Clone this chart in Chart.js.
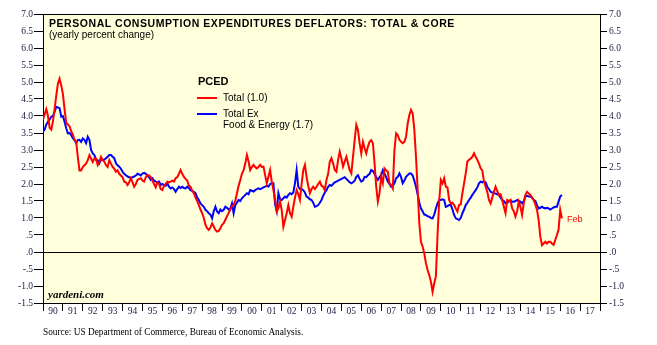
<!DOCTYPE html>
<html>
<head>
<meta charset="utf-8">
<script src="https://cdn.jsdelivr.net/npm/chart.js@4.4.1/dist/chart.umd.min.js"></script>
<style>
  body { margin: 0; background: #fff; }
  #wrap { position: relative; width: 657px; height: 345px; }
  .t { position: absolute; white-space: nowrap; line-height: 1; color: #000; }
  .sans { font-family: "Liberation Sans", Arial, sans-serif; }
  .serif { font-family: "Liberation Serif", "Times New Roman", serif; }
  .key { position: absolute; height: 2px; width: 20px; }
</style>
</head>
<body>
<div id="wrap">
  <canvas id="chart" width="657" height="345"></canvas>
  <div class="t sans" style="left:49px; top:17.5px; font-size:10.5px; font-weight:bold; letter-spacing:0.55px;">PERSONAL CONSUMPTION EXPENDITURES DEFLATORS: TOTAL &amp; CORE</div>
  <div class="t sans" style="left:49px; top:30px; font-size:10px;">(yearly percent change)</div>
  <div class="t sans" style="left:198px; top:76.3px; font-size:11px; font-weight:bold;">PCED</div>
  <div class="key" style="left:197px; top:96.7px; background:#ff0000;"></div>
  <div class="t sans" style="left:223px; top:93.2px; font-size:10px;">Total (1.0)</div>
  <div class="key" style="left:197px; top:112.7px; background:#0000ff;"></div>
  <div class="t sans" style="left:223px; top:109px; font-size:10px;">Total Ex</div>
  <div class="t sans" style="left:223px; top:120px; font-size:10px;">Food &amp; Energy (1.7)</div>
  <div class="t serif" style="left:48px; top:289.3px; font-size:11px; font-weight:bold; font-style:italic;">yardeni.com</div>
  <div class="t sans" style="left:567px; top:215px; font-size:9px; color:#ff0000;">Feb</div>
  <div class="t serif" style="left:43px; top:328px; font-size:9.3px;">Source: US Department of Commerce, Bureau of Economic Analysis.</div>
</div>
<script>
// monthly, Jan 1990 .. Feb 2016
var startYear = 1990;

var totalPce = [
  3.9, 4.05, 4.2, 4.0, 3.65, 3.6, 3.85, 4.2, 4.6, 4.95, 5.1, 4.9,
  4.65, 4.2, 3.8, 3.75, 3.7, 3.55, 3.45, 3.3, 3.25, 2.8, 2.4, 2.4,
  2.5, 2.55, 2.6, 2.7, 2.85, 2.75, 2.65, 2.75, 2.75, 2.56, 2.65, 2.8,
  2.7, 2.66, 2.55, 2.5, 2.7, 2.6, 2.5, 2.45, 2.36, 2.4, 2.3, 2.25,
  2.2, 2.07, 2.05, 1.97, 2.05, 2.17, 2.05, 1.92, 2.0, 2.12, 2.15, 2.17,
  2.1, 2.07, 2.2, 2.26, 2.25, 2.2, 2.1, 2.0, 1.9, 2.05, 2.0, 1.85,
  1.82, 1.95, 2.0, 2.07, 2.05, 2.07, 2.1, 2.07, 2.17, 2.2, 2.3, 2.41,
  2.3, 2.21, 2.15, 2.1, 1.95, 1.92, 1.8, 1.73, 1.6, 1.5, 1.38, 1.25,
  1.14, 1.0, 0.8, 0.7, 0.65, 0.72, 0.84, 0.75, 0.65, 0.6, 0.62, 0.7,
  0.8, 0.85, 0.95, 1.05, 1.15, 1.25, 1.35, 1.38, 1.5, 1.73, 1.95, 2.12,
  2.3, 2.41, 2.6, 2.85, 2.66, 2.41, 2.5, 2.56, 2.5, 2.46, 2.5, 2.56,
  2.5, 2.51, 2.26, 2.02, 2.21, 2.41, 2.07, 1.82, 1.53, 1.19, 1.28, 1.48,
  1.24, 0.74, 0.94, 1.14, 1.38, 1.14, 1.04, 1.33, 1.6, 1.82, 1.7, 1.53,
  2.0, 2.41, 2.56, 2.21, 1.95, 1.73, 1.85, 1.92, 1.85, 1.92, 2.0, 2.07,
  1.95, 1.92, 1.82, 2.12, 2.3, 2.66, 2.76, 2.6, 2.41, 2.36, 2.71, 2.95,
  2.75, 2.51, 2.66, 2.8, 2.6, 2.41, 2.31, 2.8, 3.29, 3.74, 3.59, 3.2,
  2.9, 3.24, 3.05, 2.9, 3.1, 3.24, 3.29, 3.2, 2.61, 1.92, 1.48, 1.73,
  2.21, 2.02, 2.46, 2.4, 2.36, 2.02, 1.97, 1.87, 3.0, 3.49, 3.44, 3.3,
  3.24, 3.2, 3.24, 3.39, 3.78, 4.03, 4.18, 4.08, 3.59, 2.8, 1.82, 0.84,
  0.3, 0.16, -0.04, -0.33, -0.53, -0.68, -0.87, -1.17, -0.92, -0.72, 0.5, 1.5,
  2.12, 2.02, 2.17, 1.92, 1.9, 1.53, 1.43, 1.45, 1.38, 1.28, 1.19, 1.38,
  1.4, 1.73, 2.02, 2.31, 2.66, 2.71, 2.75, 2.8, 2.9, 2.8, 2.71, 2.6,
  2.46, 2.4, 2.07, 1.92, 1.77, 1.53, 1.43, 1.6, 1.77, 1.92, 1.8, 1.68,
  1.7, 1.53, 1.33, 1.14, 1.53, 1.5, 1.53, 1.28, 1.2, 1.04, 1.2, 1.48,
  1.33, 1.09, 1.43, 1.68, 1.77, 1.72, 1.68, 1.6, 1.53, 1.4, 1.24, 0.94,
  0.45, 0.2, 0.25, 0.3, 0.25, 0.3, 0.3, 0.25, 0.21, 0.35, 0.5, 0.65,
  1.24, 0.99
];

var corePce = [
  3.54, 3.6, 3.75, 3.83, 3.9, 3.98, 4.0, 4.13, 4.27, 4.25, 4.23, 3.98,
  4.0, 3.83, 3.64, 3.49, 3.5, 3.44, 3.35, 3.29, 3.2, 3.29, 3.3, 3.24,
  3.34, 3.3, 3.2, 3.39, 3.3, 3.0, 2.9, 2.85, 2.71, 2.7, 2.61, 2.71,
  2.7, 2.72, 2.76, 2.8, 2.85, 2.85, 2.8, 2.76, 2.61, 2.55, 2.51, 2.45,
  2.36, 2.3, 2.26, 2.22, 2.2, 2.17, 2.2, 2.22, 2.25, 2.3, 2.28, 2.25,
  2.31, 2.33, 2.3, 2.25, 2.2, 2.12, 2.17, 2.1, 2.07, 2.05, 2.07, 1.97,
  2.0, 1.97, 1.95, 2.02, 1.92, 1.87, 1.9, 1.85, 1.77, 1.85, 1.92, 1.88,
  1.92, 1.88, 1.87, 1.92, 1.88, 1.82, 1.8, 1.77, 1.73, 1.6, 1.53, 1.43,
  1.38, 1.33, 1.24, 1.2, 1.14, 1.1, 0.99, 1.2, 1.33, 1.19, 1.14, 1.25,
  1.2, 1.24, 1.33, 1.3, 1.25, 1.28, 1.43, 1.14, 1.38, 1.45, 1.53, 1.5,
  1.58, 1.63, 1.68, 1.73, 1.7, 1.82, 1.8, 1.78, 1.82, 1.85, 1.87, 1.85,
  1.87, 1.9, 1.92, 1.95, 1.92, 2.0, 2.02, 2.02, 1.4, 1.2, 1.73, 1.55,
  1.53, 1.58, 1.63, 1.6, 1.68, 1.73, 1.7, 1.75, 2.02, 2.41, 1.92, 1.85,
  1.85, 1.82, 1.75, 1.63, 1.6, 1.55, 1.53, 1.45, 1.33, 1.35, 1.38, 1.45,
  1.53, 1.65, 1.75, 1.82, 1.92, 1.97, 1.95, 2.0, 2.05, 2.07, 2.1, 2.12,
  2.15, 2.17, 2.2, 2.15, 2.1, 2.05, 2.02, 2.05, 2.1, 2.21, 2.26, 2.15,
  2.07, 2.1, 2.21, 2.2, 2.26, 2.3, 2.41, 2.38, 2.3, 2.2, 2.12, 2.2,
  2.26, 2.41, 2.31, 2.2, 2.07, 2.0, 1.92, 1.95, 2.02, 2.17, 2.21, 2.31,
  2.2, 2.02, 2.1, 2.21, 2.26, 2.31, 2.31, 2.25, 2.1, 1.92, 1.7, 1.45,
  1.28, 1.2, 1.1, 1.09, 1.05, 1.04, 1.0, 0.99, 1.1, 1.28, 1.43, 1.53,
  1.53, 1.55, 1.53, 1.33, 1.35, 1.38, 1.38, 1.25, 1.09, 0.99, 0.97, 0.94,
  1.0, 1.14, 1.25, 1.38, 1.45, 1.53, 1.6, 1.68, 1.75, 1.82, 1.9, 2.02,
  2.07, 2.05, 2.07, 2.05, 1.92, 1.85, 1.77, 1.75, 1.73, 1.72, 1.7, 1.68,
  1.6, 1.53, 1.5, 1.43, 1.45, 1.48, 1.52, 1.48, 1.48, 1.5, 1.53, 1.5,
  1.48, 1.43, 1.5, 1.63, 1.65, 1.63, 1.63, 1.6, 1.53, 1.5, 1.38, 1.28,
  1.3, 1.33, 1.3, 1.28, 1.3, 1.28, 1.25, 1.28, 1.31, 1.33, 1.33, 1.48,
  1.63, 1.68
];

// x axis: years 1990..2017 labelled between tick marks
var yearLabels = [];
for (var yr = 1990; yr <= 2017; yr++) yearLabels.push(yr);

var yMin = -1.5, yMax = 7.0, yStep = 0.5;

function toPoints(arr) {
  return arr.map(function(v, i) { return { x: startYear + i / 12, y: v }; });
}

function fmtY(v) {
  var a = Math.abs(v);
  var s = a.toFixed(1);
  if (a < 1) s = s.slice(1);
  return (v < 0 ? '-' : '') + s;
}

var tickFont = { family: '"Liberation Serif", "Times New Roman", serif', size: 9.5 };
var tickColor = '#1a1a40';

var plotBg = {
  id: 'plotBg',
  beforeDraw: function(chart) {
    var a = chart.chartArea, ctx = chart.ctx;
    ctx.save();
    ctx.fillStyle = '#ffffdc';
    ctx.fillRect(a.left, a.top, a.right - a.left, a.bottom - a.top);
    ctx.restore();
  },
  afterDraw: function(chart) {
    var a = chart.chartArea, ctx = chart.ctx;
    ctx.save();
    ctx.strokeStyle = '#000';
    ctx.lineWidth = 1;
    ctx.beginPath();
    ctx.moveTo(a.left, a.top + 0.5);
    ctx.lineTo(a.right, a.top + 0.5);
    ctx.stroke();
    ctx.restore();
  }
};

var ctx = document.getElementById('chart').getContext('2d');
var myChart = new Chart(ctx, {
  type: 'line',
  data: {
    datasets: [
      {
        label: 'Total (1.0)',
        data: toPoints(totalPce),
        borderColor: '#ff0000',
        borderWidth: 2,
        pointRadius: 0,
        tension: 0
      },
      {
        label: 'Total Ex Food & Energy (1.7)',
        data: toPoints(corePce),
        borderColor: '#0000ff',
        borderWidth: 2,
        pointRadius: 0,
        tension: 0
      }
    ]
  },
  options: {
    responsive: false,
    animation: false,
    devicePixelRatio: 1,
    events: [],
    layout: { padding: { top: 14, left: 0, right: 0, bottom: 0 } },
    plugins: { legend: { display: false }, tooltip: { enabled: false } },
    scales: {
      x: {
        type: 'linear',
        position: 'bottom',
        min: 1990,
        max: 2018,
        afterBuildTicks: function(scale) {
          scale.ticks = yearLabels.map(function(y) { return { value: y + 0.5 }; });
        },
        afterFit: function(scale) { scale.height = 42; },
        ticks: {
          autoSkip: false,
          maxRotation: 0,
          padding: -5,
          font: tickFont,
          color: tickColor,
          callback: function(v) { return String(Math.floor(v)).slice(2); }
        },
        grid: { offset: true, drawOnChartArea: false, tickLength: 8, color: '#000' },
        border: { color: '#000', width: 1 }
      },
      y: {
        position: 'left',
        min: yMin,
        max: yMax,
        afterFit: function(scale) { scale.width = 43; },
        ticks: { stepSize: yStep, padding: 1, font: tickFont, color: tickColor, callback: fmtY },
        grid: { drawOnChartArea: false, tickLength: 9, color: '#000' },
        border: { color: '#000', width: 1 }
      },
      y2: {
        position: 'right',
        min: yMin,
        max: yMax,
        afterFit: function(scale) { scale.width = 57; },
        ticks: { stepSize: yStep, padding: 2, font: tickFont, color: tickColor, callback: fmtY },
        grid: {
          drawOnChartArea: true,
          tickLength: 7,
          tickColor: '#000',
          color: function(c) { return (c.tick && c.tick.value === 0) ? '#000' : 'rgba(0,0,0,0)'; }
        },
        border: { color: '#000', width: 1 }
      }
    }
  },
  plugins: [plotBg]
});
</script>
</body>
</html>
